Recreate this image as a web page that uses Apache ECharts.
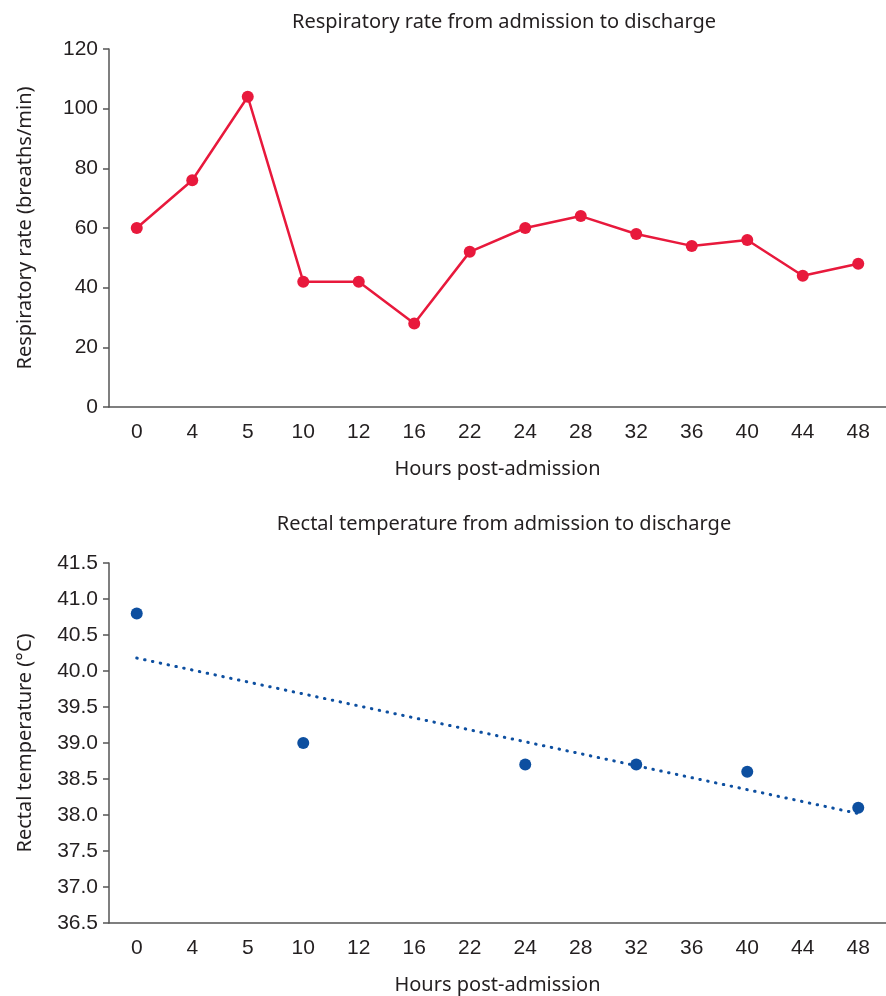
<!DOCTYPE html>
<html>
<head>
<meta charset="utf-8">
<script src="https://cdn.jsdelivr.net/npm/echarts@6/dist/echarts.min.js"></script>
<style>
html,body{margin:0;padding:0;background:#fff;}
#c{width:886px;height:996px;}
</style>
</head>
<body>
<div id="c"></div>
<script>
var categories = ['0','4','5','10','12','16','22','24','28','32','36','40','44','48'];
var respRate = [60,76,104,42,42,28,52,60,64,58,54,56,44,48];
var tempHours = ['0','10','24','32','40','48'];
var tempValues = [40.8,39.0,38.7,38.7,38.6,38.1];
var trendHours = ['0','48'];
var trendValues = [40.18,38.02];

var titleFont = '"Noto Sans", sans-serif';
var tickFont = '"Liberation Sans", Arial, sans-serif';
var textColor = '#231f20';
var axisColor = '#555';

var chart = echarts.init(document.getElementById('c'), null, {renderer:'canvas'});

function xAxis(gridIndex){
  return {
    type:'category', gridIndex:gridIndex, data:categories, boundaryGap:true,
    name:'Hours post-admission', nameLocation:'middle', nameGap:52,
    nameTextStyle:{fontFamily:titleFont,fontSize:20,color:textColor},
    axisLine:{lineStyle:{color:axisColor,width:1.5}},
    axisTick:{alignWithLabel:true,length:6,lineStyle:{color:axisColor,width:1.5}},
    axisLabel:{fontFamily:tickFont,fontSize:21,color:textColor,margin:15,interval:0},
    splitLine:{show:false}
  };
}
function yAxis(gridIndex,name,min,max,interval,decimals){
  return {
    type:'value', gridIndex:gridIndex, min:min, max:max, interval:interval,
    name:name, nameLocation:'middle', nameGap:74,
    nameTextStyle:{fontFamily:titleFont,fontSize:20,color:textColor},
    axisLine:{show:true,lineStyle:{color:axisColor,width:1.5}},
    axisTick:{show:true,length:6,lineStyle:{color:axisColor,width:1.5}},
    axisLabel:{fontFamily:tickFont,fontSize:21,color:textColor,margin:11,
      formatter:function(v){return decimals ? v.toFixed(decimals) : String(v);}},
    splitLine:{show:false}
  };
}

chart.setOption({
  animation:false,
  backgroundColor:'#fff',
  title:[
    {text:'Respiratory rate from admission to discharge',left:499,textAlign:'center',top:7,
      textStyle:{fontFamily:titleFont,fontSize:20,fontWeight:'normal',color:textColor}},
    {text:'Rectal temperature from admission to discharge',left:499,textAlign:'center',top:509,
      textStyle:{fontFamily:titleFont,fontSize:20,fontWeight:'normal',color:textColor}}
  ],
  grid:[
    {left:109,top:49,width:780,height:358},
    {left:109,top:563,width:780,height:360}
  ],
  xAxis:[xAxis(0),xAxis(1)],
  yAxis:[
    yAxis(0,'Respiratory rate (breaths/min)',0,120,20,0),
    yAxis(1,'Rectal temperature (°C)',36.5,41.5,0.5,1)
  ],
  series:[
    {type:'line',xAxisIndex:0,yAxisIndex:0,data:respRate,
      symbol:'circle',symbolSize:12,
      lineStyle:{color:'#e8193c',width:2.5},
      itemStyle:{color:'#e8193c'}},
    {type:'line',xAxisIndex:1,yAxisIndex:1,
      data:trendHours.map(function(h,i){return [h,trendValues[i]];}),
      symbol:'none',
      lineStyle:{color:'#0d4fa0',width:3,type:[0.5,7.5],cap:'round'}},
    {type:'scatter',xAxisIndex:1,yAxisIndex:1,
      data:tempHours.map(function(h,i){return [h,tempValues[i]];}),
      symbol:'circle',symbolSize:12,
      itemStyle:{color:'#0d4fa0',opacity:1}}
  ]
});
</script>
</body>
</html>
